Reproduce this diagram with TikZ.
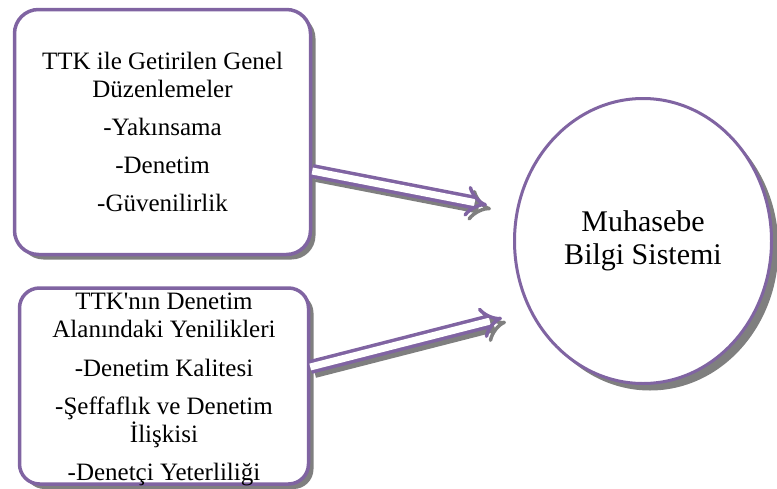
\documentclass[tikz,border=0pt]{standalone}
\usepackage{fontspec}
\setmainfont{Liberation Serif}
\usetikzlibrary{shapes.geometric, arrows.meta, shadows}
\definecolor{mor}{HTML}{8064A2}
\definecolor{golge}{HTML}{7F7F7F}

\tikzset{
  kutu/.style={rectangle, rounded corners=24pt, draw=mor, line width=3.5pt, fill=white,
    inner sep=0pt, align=center, font=\fontsize{25}{28}\selectfont,
    drop shadow={shadow xshift=5pt, shadow yshift=-5pt, fill=golge, opacity=1}},
  ok/.style={draw=mor, line width=3.5pt, double=white, double distance=7pt, -{Implies[scale=1.1]}},
  okgolge/.style={draw=golge, line width=3.5pt, double=golge, double distance=7pt, -{Implies[scale=1.1]}},
}

\begin{document}
\begin{tikzpicture}[x=1pt, y=-1pt]
    \useasboundingbox (0,0) rectangle (777,488);

    % Kutular
    \node[kutu, minimum width=296pt, minimum height=245pt] (kutu1) at (162.5,132)
      {TTK ile Getirilen Genel\\Düzenlemeler\\[10pt]-Yakınsama\\[10pt]-Denetim\\[10pt]-Güvenilirlik};
    \node[kutu, rounded corners=20pt, minimum width=289pt, minimum height=196pt,
      text height=192pt, text depth=4pt] (kutu2) at (164,386)
      {TTK\textquotesingle nın Denetim\\Alanındaki Yenilikleri\\[11pt]-Denetim Kalitesi\\[10pt]-Şeffaflık ve Denetim\\İlişkisi\\[10pt]-Denetçi Yeterliliği};

    % Sistem
    \node[ellipse, draw=mor, line width=3pt, fill=white, minimum width=257pt, minimum height=285pt,
      inner sep=0pt, align=center, font=\fontsize{30}{33}\selectfont,
      drop shadow={shadow xshift=7pt, shadow yshift=-7pt, fill=golge, opacity=1}] (sistem) at (643,241)
      {Muhasebe\\Bilgi Sistemi};

    % Oklar
    \draw[okgolge, transform canvas={xshift=4pt, yshift=-4pt}] ([yshift=-39pt]kutu1.east) -- ([xshift=-26pt, yshift=36pt]sistem.west);
    \draw[ok] ([yshift=-39pt]kutu1.east) -- ([xshift=-26pt, yshift=36pt]sistem.west);
    \draw[okgolge, transform canvas={xshift=4pt, yshift=-4pt}] ([yshift=19pt]kutu2.east) -- ([xshift=-11pt, yshift=-77pt]sistem.west);
    \draw[ok] ([yshift=19pt]kutu2.east) -- ([xshift=-11pt, yshift=-77pt]sistem.west);

\end{tikzpicture}
\end{document}
